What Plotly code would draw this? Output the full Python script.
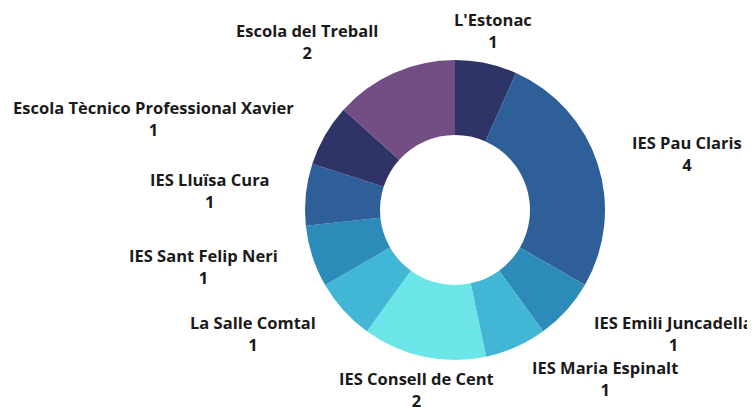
import math
import plotly.graph_objects as go

labels = ["L'Estonac", "IES Pau Claris", "IES Emili Juncadella", "IES Maria Espinalt",
          "IES Consell de Cent", "La Salle Comtal", "IES Sant Felip Neri",
          "IES Lluïsa Cura", "Escola Tècnico Professional Xavier", "Escola del Treball"]
values = [1, 4, 1, 1, 2, 1, 1, 1, 1, 2]
colors = ["#2f3468", "#2e5f99", "#2d8bba", "#42b7d5", "#6ce5e8",
          "#42b7d5", "#2d8bba", "#2e5f99", "#2f3468", "#724e85"]

# the page body has an 8px margin; work in figure pixels
OFF = 8
W, H = 755 - OFF, 407 - OFF
cx, cy, R = 455 - OFF, 210 - OFF, 150

fig = go.Figure(go.Pie(
    labels=labels, values=values, marker=dict(colors=colors, line=dict(width=0)),
    hole=0.5, sort=False, direction="clockwise", rotation=0,
    textinfo="none", showlegend=False,
    domain=dict(x=[(cx - R) / W, (cx + R) / W], y=[(H - cy - R) / H, (H - cy + R) / H]),
))

total = sum(values)
cum = 0
rl = R + 34
for lab, v in zip(labels, values):
    mid = (cum + v / 2) / total * 2 * math.pi
    cum += v
    s, c = math.sin(mid), math.cos(mid)
    px = cx + rl * s
    py = cy - rl * c
    if abs(s) < 0.3:
        xa = "center"
    elif s > 0:
        xa = "left"
    else:
        xa = "right"
    fig.add_annotation(
        x=px / W, y=1 - py / H, xref="paper", yref="paper",
        xanchor=xa, yanchor="middle", align="center", showarrow=False,
        text=f"<span style='font-size:16.5px'><b>{lab}</b></span><br>"
             f"<span style='font-size:16.5px'><b>{v}</b></span>",
        font=dict(family="Open Sans", size=17, color="#1a1a1a"),
    )

fig.update_layout(
    width=W, height=H, margin=dict(l=0, r=0, t=0, b=0),
    paper_bgcolor="white", plot_bgcolor="white",
)
fig.write_html("out.html")
